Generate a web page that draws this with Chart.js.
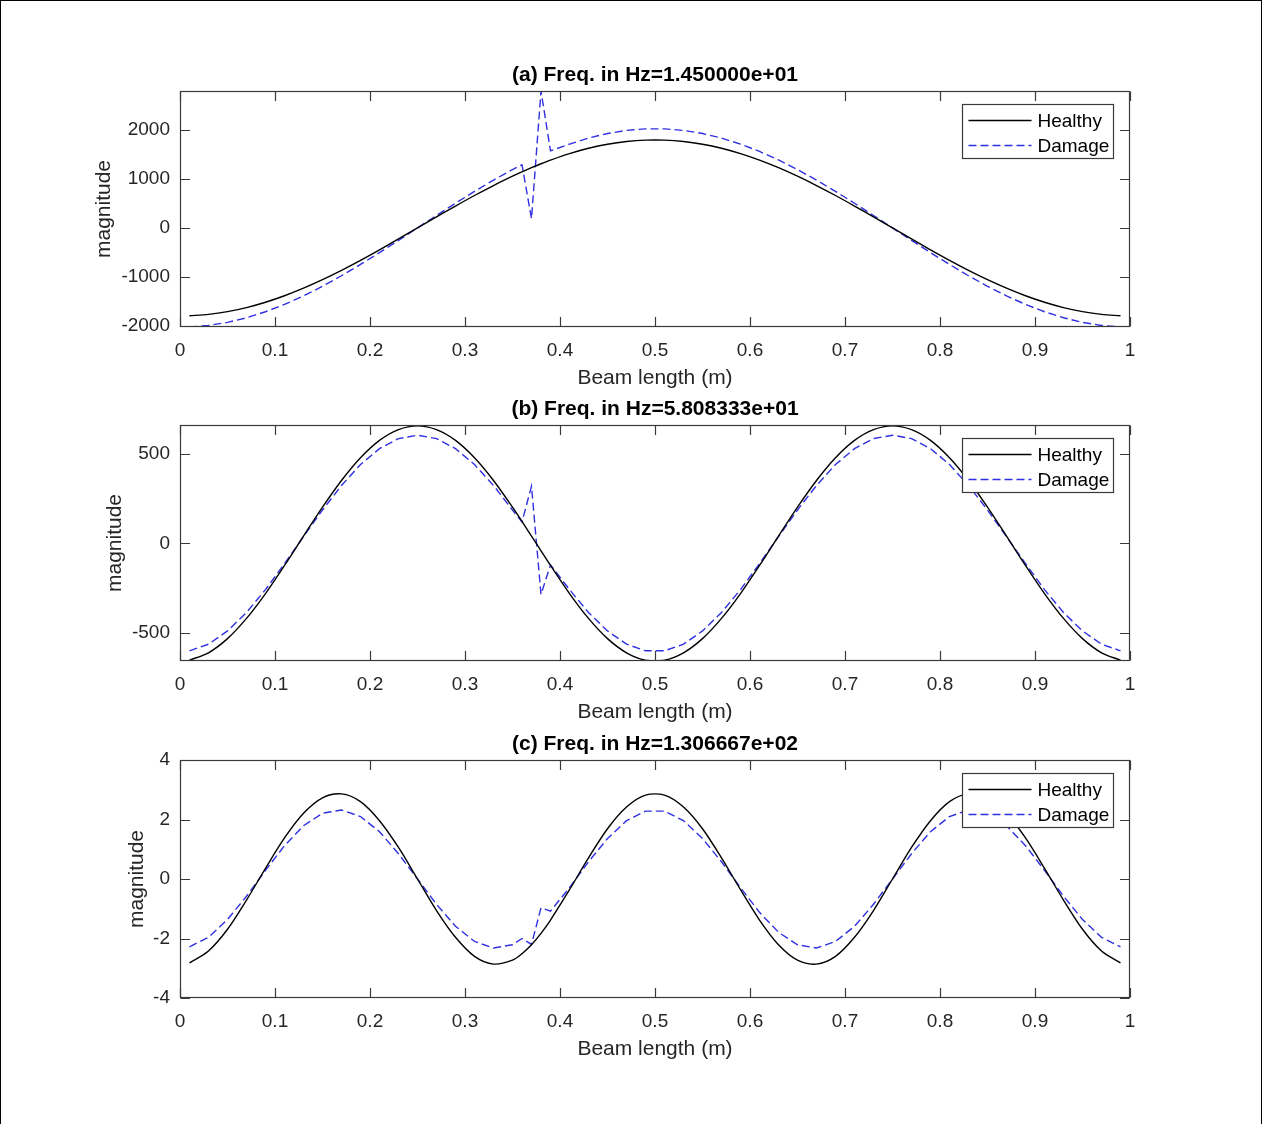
<!DOCTYPE html>
<html>
<head>
<meta charset="utf-8">
<title>Beam mode shapes</title>
<script src="https://cdn.jsdelivr.net/npm/chart.js@4.4.1/dist/chart.umd.min.js"></script>
<style>
  body { margin: 0; background: #fff; }
  #page { position: relative; width: 1262px; height: 1124px; background: #fff; }
  #frame { position: absolute; left: 0; top: 0; width: 1260px; height: 1124px;
           border: 1px solid #000; border-bottom: none; pointer-events: none; }
  canvas { position: absolute; left: 0; }
</style>
</head>
<body>
<div id="page">
  <canvas id="panelA" width="1262" height="332" style="top:61px"></canvas>
  <canvas id="panelB" width="1262" height="332" style="top:395px"></canvas>
  <canvas id="panelC" width="1262" height="334" style="top:730px"></canvas>
  <div id="frame"></div>
</div>
<script>
// Beam positions (m) where the mode shapes were sampled
const xValues = [0.01,0.03,0.05,0.07,0.09,0.11,0.13,0.15,0.17,0.19,0.21,0.23,0.25,0.27,0.29,0.31,0.33,0.35,
  0.36,0.37,0.38,0.39,0.41,0.43,0.45,0.47,0.49,0.51,0.53,0.55,0.57,0.59,0.61,0.63,0.65,0.67,0.69,0.71,
  0.73,0.75,0.77,0.79,0.81,0.83,0.85,0.87,0.89,0.91,0.93,0.95,0.97,0.99];

// (a) first mode
const healthyA = [-1796,-1768,-1712,-1629,-1520,-1387,-1232,-1058,-867,-663,-448,-226,0,226,448,663,867,1058,
  1147,1232,1312,1387,1520,1629,1712,1768,1796,1796,1768,1712,1629,1520,1387,1232,1058,867,663,448,
  226,0,-226,-448,-663,-867,-1058,-1232,-1387,-1520,-1629,-1712,-1768,-1796];
const damageA = [-2026,-1994,-1931,-1837,-1714,-1564,-1390,-1193,-978,-747,-505,-254,0,254,505,747,978,1193,
  1290,190,2800,1578,1714,1837,1931,1994,2026,2026,1994,1931,1837,1714,1564,1390,1193,978,747,505,
  254,0,-254,-505,-747,-978,-1193,-1390,-1564,-1714,-1837,-1931,-1994,-2026];

// (b) second mode
const healthyB = [-652,-611,-532,-419,-280,-123,41,203,352,479,576,636,657,636,576,479,352,203,
  123,41,-41,-123,-280,-419,-532,-611,-652,-652,-611,-532,-419,-280,-123,41,203,352,479,576,
  636,657,636,576,479,352,203,41,-123,-280,-419,-532,-611,-652];
const damageB = [-600,-563,-489,-386,-258,-113,38,187,324,441,530,586,605,586,530,441,324,187,
  120,320,-285,-120,-258,-386,-489,-563,-600,-600,-563,-489,-386,-258,-113,38,187,324,441,530,
  586,605,586,530,441,324,187,38,-113,-258,-386,-489,-563,-600];

// (c) third mode
const healthyC = [-2.82,-2.42,-1.69,-0.71,0.36,1.38,2.21,2.73,2.86,2.60,1.96,1.06,0,-1.06,-1.96,-2.60,-2.86,-2.73,
  -2.51,-2.21,-1.83,-1.38,-0.36,0.71,1.69,2.42,2.82,2.82,2.42,1.69,0.71,-0.36,-1.38,-2.21,-2.73,-2.86,-2.60,-1.96,
  -1.06,0,1.06,1.96,2.60,2.86,2.73,2.21,1.38,0.36,-0.71,-1.69,-2.42,-2.82];
const damageC = [-2.28,-1.96,-1.36,-0.58,0.29,1.12,1.79,2.21,2.32,2.10,1.59,0.85,0,-0.85,-1.59,-2.10,-2.32,-2.21,
  -2.00,-2.20,-0.97,-1.08,-0.29,0.58,1.36,1.96,2.28,2.28,1.96,1.36,0.58,-0.29,-1.12,-1.79,-2.21,-2.32,-2.10,-1.59,
  -0.85,0,0.85,1.59,2.10,2.32,2.21,1.79,1.12,0.29,-0.58,-1.36,-1.96,-2.28];

// Tick labels
const xTicks = [0, 0.1, 0.2, 0.3, 0.4, 0.5, 0.6, 0.7, 0.8, 0.9, 1];
const yTicksA = [-2000, -1000, 0, 1000, 2000];
const yTicksB = [-500, 0, 500];
const yTicksC = [-4, -2, 0, 2, 4];

const seriesNames = ['Healthy', 'Damage'];
const titles = ['(a) Freq. in Hz=1.450000e+01', '(b) Freq. in Hz=5.808333e+01', '(c) Freq. in Hz=1.306667e+02'];

const FONT = 'Helvetica, "Liberation Sans", Arial, sans-serif';
const AXIS_COLOR = '#262626';

// MATLAB style box with inward ticks plus a boxed legend in the top right corner
const matlabAxes = {
  id: 'matlabAxes',
  afterDraw(chart) {
    const { ctx, chartArea: a, scales } = chart;
    const L = Math.round(a.left) + 0.5, R = Math.round(a.right) - 0.5;
    const T = Math.round(a.top) + 0.5, B = Math.round(a.bottom) - 0.5;
    const tickLen = 9.5;
    ctx.save();
    ctx.strokeStyle = '#3a3a3a';
    ctx.lineWidth = 1.2;
    ctx.setLineDash([]);
    ctx.strokeRect(L, T, R - L, B - T);
    ctx.beginPath();
    scales.x.ticks.forEach(t => {
      const px = Math.round(scales.x.getPixelForValue(t.value)) + 0.5;
      ctx.moveTo(px, B); ctx.lineTo(px, B - tickLen);
      ctx.moveTo(px, T); ctx.lineTo(px, T + tickLen);
    });
    scales.y.ticks.forEach(t => {
      const py = Math.round(scales.y.getPixelForValue(t.value)) + 0.5;
      ctx.moveTo(L, py); ctx.lineTo(L + tickLen, py);
      ctx.moveTo(R, py); ctx.lineTo(R - tickLen, py);
    });
    ctx.stroke();

    // legend
    const lx = Math.round(a.right) - 168 + 0.5, ly = Math.round(a.top) + 13 + 0.5;
    ctx.fillStyle = '#fff';
    ctx.fillRect(lx, ly, 151, 54);
    ctx.strokeStyle = '#3a3a3a';
    ctx.lineWidth = 1.2;
    ctx.strokeRect(lx, ly, 151, 54);
    chart.data.datasets.forEach((ds, i) => {
      const y = ly + 16 + i * 25;
      ctx.beginPath();
      ctx.strokeStyle = ds.borderColor;
      ctx.lineWidth = ds.borderWidth;
      ctx.setLineDash(ds.borderDash || []);
      ctx.moveTo(lx + 6, y); ctx.lineTo(lx + 69, y);
      ctx.stroke();
      ctx.setLineDash([]);
      ctx.fillStyle = '#000';
      ctx.font = '19px ' + FONT;
      ctx.textBaseline = 'middle';
      ctx.textAlign = 'left';
      ctx.fillText(ds.label, lx + 75, y + 1);
    });
    ctx.restore();
  }
};

function makePanel(canvasId, title, healthy, damage, yMin, yMax, yTicks, yTitlePad) {
  const ctx = document.getElementById(canvasId).getContext('2d');
  return new Chart(ctx, {
    type: 'line',
    data: {
      datasets: [{
        label: seriesNames[0],
        data: xValues.map((x, i) => ({ x: x, y: healthy[i] })),
        borderColor: '#000000',
        borderWidth: 1.4,
        pointRadius: 0,
        tension: 0.3
      }, {
        label: seriesNames[1],
        data: xValues.map((x, i) => ({ x: x, y: damage[i] })),
        borderColor: '#3030e0',
        borderWidth: 1.4,
        borderDash: [8, 4],
        pointRadius: 0,
        tension: 0
      }]
    },
    options: {
      responsive: false,
      animation: false,
      devicePixelRatio: 1,
      layout: { padding: { left: 0, right: 132, top: 0, bottom: 0 } },
      plugins: {
        legend: { display: false },
        tooltip: { enabled: false },
        title: {
          display: true, text: title, fullSize: false, color: '#000',
          font: { family: FONT, size: 21, weight: 'bold' },
          padding: { top: 2, bottom: 2.8 }
        }
      },
      scales: {
        x: {
          type: 'linear', min: 0, max: 1,
          grid: { display: false, drawTicks: false },
          border: { display: false },
          afterBuildTicks: s => { s.ticks = xTicks.map(v => ({ value: v })); },
          ticks: { color: AXIS_COLOR, font: { family: FONT, size: 19 }, padding: 12,
                   maxRotation: 0, autoSkip: false, callback: v => String(v) },
          title: { display: true, text: 'Beam length (m)', color: AXIS_COLOR,
                   font: { family: FONT, size: 21 }, padding: { top: 0, bottom: 2.4 } },
          afterFit: s => { s.height = 66; }
        },
        y: {
          type: 'linear', min: yMin, max: yMax,
          grid: { display: false, drawTicks: false },
          border: { display: false },
          afterBuildTicks: s => { s.ticks = yTicks.map(v => ({ value: v })); },
          ticks: { color: AXIS_COLOR, font: { family: FONT, size: 19 }, padding: 10,
                   autoSkip: false, callback: v => String(v) },
          title: { display: true, text: 'magnitude', color: AXIS_COLOR,
                   font: { family: FONT, size: 21 }, padding: { top: yTitlePad, bottom: 0 } },
          afterFit: s => { s.width = 180; }
        }
      }
    },
    plugins: [matlabAxes]
  });
}

makePanel('panelA', titles[0], healthyA, damageA, -2026, 2800, yTicksA, 91.4);
makePanel('panelB', titles[1], healthyB, damageB, -657, 662, yTicksB, 102.4);
makePanel('panelC', titles[2], healthyC, damageC, -4, 4, yTicksC, 124.9);
</script>
</body>
</html>
